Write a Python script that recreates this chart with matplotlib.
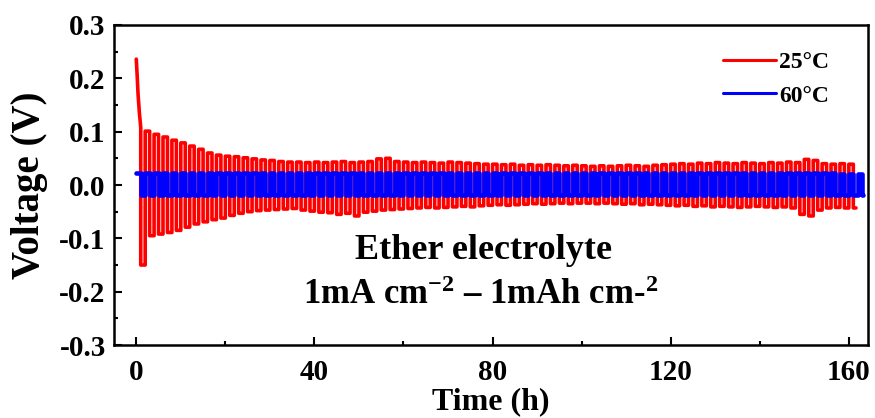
import matplotlib
matplotlib.use("Agg")
import matplotlib.pyplot as plt
import numpy as np

# -----------------------------
# DATA
# one cycle = 1 h plating + 1 h stripping at 1 mA cm-2
# -----------------------------
# 25 C cell: plateau voltage of each half cycle, cycle k starts at t = 2k h
v25_charge = [
    0.108, 0.101, 0.095, 0.090, 0.084, 0.079, 0.073, 0.067, 0.060, 0.056,
    0.054, 0.053, 0.051, 0.049, 0.047, 0.046, 0.044, 0.043, 0.043, 0.042,
    0.043, 0.042, 0.043, 0.044, 0.042, 0.043, 0.044, 0.049, 0.050, 0.044,
    0.043, 0.042, 0.043, 0.042, 0.041, 0.043, 0.042, 0.041, 0.040, 0.039,
    0.039, 0.038, 0.039, 0.037, 0.038, 0.037, 0.038, 0.037, 0.036, 0.037,
    0.036, 0.035, 0.036, 0.035, 0.036, 0.037, 0.036, 0.035, 0.037, 0.038,
    0.039, 0.040, 0.039, 0.041, 0.040, 0.042, 0.041, 0.040, 0.042, 0.041,
    0.040, 0.042, 0.041, 0.043, 0.042, 0.048, 0.046, 0.040, 0.039, 0.040,
    0.039,
]
v25_discharge = [
    -0.150, -0.095, -0.092, -0.089, -0.085, -0.079, -0.073, -0.069, -0.065, -0.062,
    -0.057, -0.053, -0.050, -0.048, -0.047, -0.046, -0.045, -0.044, -0.047, -0.049,
    -0.051, -0.052, -0.055, -0.053, -0.058, -0.051, -0.049, -0.047, -0.046, -0.045,
    -0.044, -0.043, -0.042, -0.043, -0.042, -0.041, -0.040, -0.041, -0.039, -0.038,
    -0.037, -0.038, -0.037, -0.036, -0.035, -0.036, -0.035, -0.034, -0.035, -0.034,
    -0.034, -0.035, -0.034, -0.035, -0.036, -0.035, -0.037, -0.036, -0.037, -0.038,
    -0.039, -0.038, -0.040, -0.039, -0.041, -0.040, -0.041, -0.042, -0.041, -0.040,
    -0.041, -0.042, -0.041, -0.043, -0.055, -0.058, -0.047, -0.043, -0.042, -0.043,
    -0.043,
]
# first plating hour of the 25 C cell (nucleation overpotential decay)
first_t = [0.0, 0.2, 0.4, 0.7, 1.0]
first_v = [0.236, 0.205, 0.170, 0.135, 0.108]

# 60 C cell
v60_charge = [
    0.022, 0.022, 0.022, 0.022, 0.022, 0.022, 0.022, 0.022, 0.022, 0.022,
    0.022, 0.022, 0.022, 0.022, 0.022, 0.022, 0.022, 0.022, 0.022, 0.022,
    0.022, 0.022, 0.022, 0.022, 0.022, 0.022, 0.022, 0.022, 0.022, 0.022,
    0.022, 0.022, 0.022, 0.022, 0.022, 0.022, 0.022, 0.022, 0.022, 0.022,
    0.022, 0.022, 0.022, 0.022, 0.022, 0.022, 0.022, 0.022, 0.022, 0.022,
    0.022, 0.022, 0.022, 0.022, 0.022, 0.022, 0.022, 0.022, 0.022, 0.022,
    0.022, 0.022, 0.022, 0.022, 0.022, 0.022, 0.022, 0.022, 0.022, 0.022,
    0.022, 0.022, 0.022, 0.022, 0.022, 0.022, 0.022, 0.022, 0.022, 0.021,
    0.021, 0.020,
]
v60_discharge = [
    -0.018, -0.018, -0.018, -0.018, -0.018, -0.018, -0.018, -0.018, -0.018, -0.018,
    -0.018, -0.018, -0.018, -0.018, -0.018, -0.018, -0.018, -0.018, -0.018, -0.018,
    -0.018, -0.018, -0.018, -0.018, -0.018, -0.018, -0.018, -0.018, -0.018, -0.018,
    -0.018, -0.018, -0.018, -0.018, -0.018, -0.018, -0.018, -0.018, -0.018, -0.018,
    -0.018, -0.018, -0.018, -0.018, -0.018, -0.018, -0.018, -0.018, -0.018, -0.018,
    -0.018, -0.018, -0.018, -0.018, -0.018, -0.018, -0.018, -0.018, -0.018, -0.018,
    -0.018, -0.018, -0.018, -0.018, -0.018, -0.018, -0.018, -0.018, -0.018, -0.018,
    -0.018, -0.018, -0.018, -0.018, -0.018, -0.018, -0.018, -0.018, -0.018, -0.018,
    -0.018, -0.018,
]

half_cycle_h = 1.0
t25_end = 161.6
t60_end = 163.2

labels = ["25°C", "60°C"]
xticks = [0, 40, 80, 120, 160]
yticks = [-0.3, -0.2, -0.1, 0.0, 0.1, 0.2, 0.3]


def square_wave(charge, discharge, t_end):
    t, v = [], []
    for k, (c, d) in enumerate(zip(charge, discharge)):
        t0 = 2 * k * half_cycle_h
        t += [t0, t0 + half_cycle_h, t0 + half_cycle_h, t0 + 2 * half_cycle_h]
        v += [c, c, d, d]
    t = np.minimum(np.array(t), t_end)
    return t, np.array(v)


t25, v25 = square_wave(v25_charge, v25_discharge, t25_end)
t25 = np.concatenate([first_t, t25[2:]])
v25 = np.concatenate([first_v, v25[2:]])
t60, v60 = square_wave(v60_charge, v60_discharge, t60_end)

# -----------------------------
# PLOT
# -----------------------------
plt.rcParams["font.family"] = ["Liberation Serif", "DejaVu Serif"]
plt.rcParams["font.weight"] = "bold"
plt.rcParams["mathtext.fontset"] = "custom"
plt.rcParams["mathtext.rm"] = "Liberation Serif:bold"
plt.rcParams["mathtext.default"] = "rm"

fig = plt.figure(figsize=(8.75, 4.18), dpi=100)
ax = fig.add_axes([0.1303, 0.1746, 0.8617, 0.7656])

ax.plot(t25, v25, color="#ff0000", lw=2.6, solid_capstyle="round",
        solid_joinstyle="round", label=labels[0])
ax.plot(t60, v60, color="#0000ff", lw=3.3, solid_capstyle="round",
        solid_joinstyle="round", label=labels[1])

ax.set_xlim(-5, 164.3)
ax.set_ylim(-0.3, 0.3)
ax.set_xticks(xticks)
ax.set_yticks(yticks)
ax.set_xticks(np.arange(20, 161, 40), minor=True)
ax.set_yticks(np.arange(-0.25, 0.26, 0.1), minor=True)
ax.set_yticklabels(["%.1f" % y for y in yticks])

ax.tick_params(which="both", direction="in", width=1.5, labelsize=21)
ax.tick_params(which="major", length=6)
ax.tick_params(axis="x", which="major", pad=10)
ax.tick_params(axis="y", which="major", pad=6)
ax.tick_params(which="minor", length=3)
for s in ax.spines.values():
    s.set_linewidth(1.8)

ax.set_xlabel("Time (h)", fontsize=23, fontweight="bold", labelpad=1)
ax.set_ylabel("Voltage (V)", fontsize=28, fontweight="bold", labelpad=8)

ax.text(77.9, -0.123, "Ether electrolyte", ha="center", va="center",
        fontsize=26, fontweight="bold")
ax.text(77.4, -0.208, r"1mA cm$^{-2}$ – 1mAh cm-$^{2}$", ha="center",
        va="center", fontsize=25, fontweight="bold")

leg = ax.legend(loc="upper right", bbox_to_anchor=(0.977, 0.983), frameon=False,
                fontsize=17, handlelength=2.25, labelspacing=0.5,
                handletextpad=0.15)
for line in leg.get_lines():
    line.set_linewidth(2.2)

fig.savefig("out.png", dpi=100)
